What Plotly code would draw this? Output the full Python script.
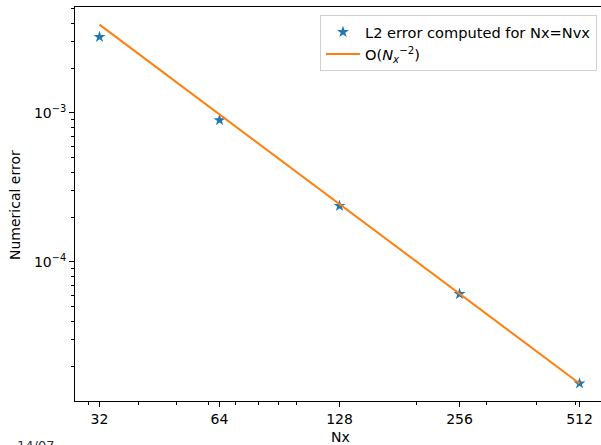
import plotly.graph_objects as go

# Grid sizes and measured L2 errors (Nx = Nvx)
nx = [32, 64, 128, 256, 512]
l2_error = [3.24e-3, 8.95e-4, 2.38e-4, 6.1e-5, 1.53e-5]

# Reference slope O(Nx^-2), anchored on the finest grid
ref_const = l2_error[-1] * nx[-1] ** 2
ref_line = [ref_const / n ** 2 for n in nx]

x_ticks = [32, 64, 128, 256, 512]
x_tick_text = ["32", "64", "128", "256", "512"]
x_minor = [30, 40, 50, 60, 70, 80, 90, 100, 200, 300, 400, 500]
y_ticks = [1e-4, 1e-3]
y_tick_text = ["10<sup>−4</sup>", "10<sup>−3</sup>"]
y_minor = [m * 10.0 ** e for e in (-5, -4, -3) for m in range(2, 10)]

FONT = "DejaVu Sans"
FS = 14
W, H = 601, 445
L, R, T, B = 75, 0, 7, 44
plot_w, plot_h = W - L - R, H - T - B

fig = go.Figure()
fig.add_trace(go.Scatter(
    x=nx, y=l2_error, mode="markers",
    marker=dict(symbol="star", size=9, color="#1f77b4", line=dict(width=0)),
    name="L2 error computed for Nx=Nvx",
))
fig.add_trace(go.Scatter(
    x=nx, y=ref_line, mode="lines",
    line=dict(color="#ff7f0e", width=2),
    name="O(<i>N</i><sub><i>x</i></sub><sup>−2</sup>)",
))

def px_x(p):
    return (p - L) / plot_w

def px_y(p):
    return (H - B - p) / plot_h

fig.update_layout(
    width=W, height=H,
    margin=dict(l=L, r=R, t=T, b=B),
    paper_bgcolor="white", plot_bgcolor="white",
    font=dict(family=FONT, size=FS, color="black"),
    showlegend=True,
    legend=dict(
        x=px_x(597), y=px_y(15), xanchor="right", yanchor="top",
        bgcolor="white", bordercolor="#d0d0d0", borderwidth=1,
        font=dict(family=FONT, size=14.6), itemwidth=34,
        tracegroupgap=4,
    ),
    xaxis=dict(
        type="log", range=[1.4437, 2.7631],
        tickmode="array", tickvals=x_ticks, ticktext=x_tick_text,
        ticks="outside", ticklen=5, tickwidth=1, tickcolor="black",
        showgrid=False, zeroline=False,
        showline=True, linecolor="black", linewidth=1, mirror=True,
        minor=dict(tickmode="array", tickvals=x_minor, ticks="outside",
                   ticklen=3, tickwidth=1, tickcolor="black", showgrid=False),
        tickfont=dict(family=FONT, size=FS),
    ),
    yaxis=dict(
        type="log", range=[-4.933, -2.2886],
        tickmode="array", tickvals=y_ticks, ticktext=y_tick_text,
        ticks="outside", ticklen=5, tickwidth=1, tickcolor="black",
        showgrid=False, zeroline=False,
        showline=True, linecolor="black", linewidth=1, mirror=False,
        minor=dict(tickmode="array", tickvals=y_minor, ticks="outside",
                   ticklen=3, tickwidth=1, tickcolor="black", showgrid=False),
        tickfont=dict(family=FONT, size=FS),
    ),
    annotations=[
        dict(text="Nx", xref="paper", yref="paper",
             x=px_x(340), y=px_y(437), xanchor="center", yanchor="middle",
             showarrow=False, font=dict(family=FONT, size=FS)),
        dict(text="Numerical error", xref="paper", yref="paper",
             x=px_x(15), y=px_y(205), xanchor="center", yanchor="middle",
             textangle=-90, showarrow=False, font=dict(family=FONT, size=FS)),
        dict(text="14/07", xref="paper", yref="paper",
             x=px_x(15), y=px_y(436), xanchor="left", yanchor="top",
             showarrow=False, font=dict(family=FONT, size=13, color="#333333")),
    ],
)

fig.write_html("out.html")
